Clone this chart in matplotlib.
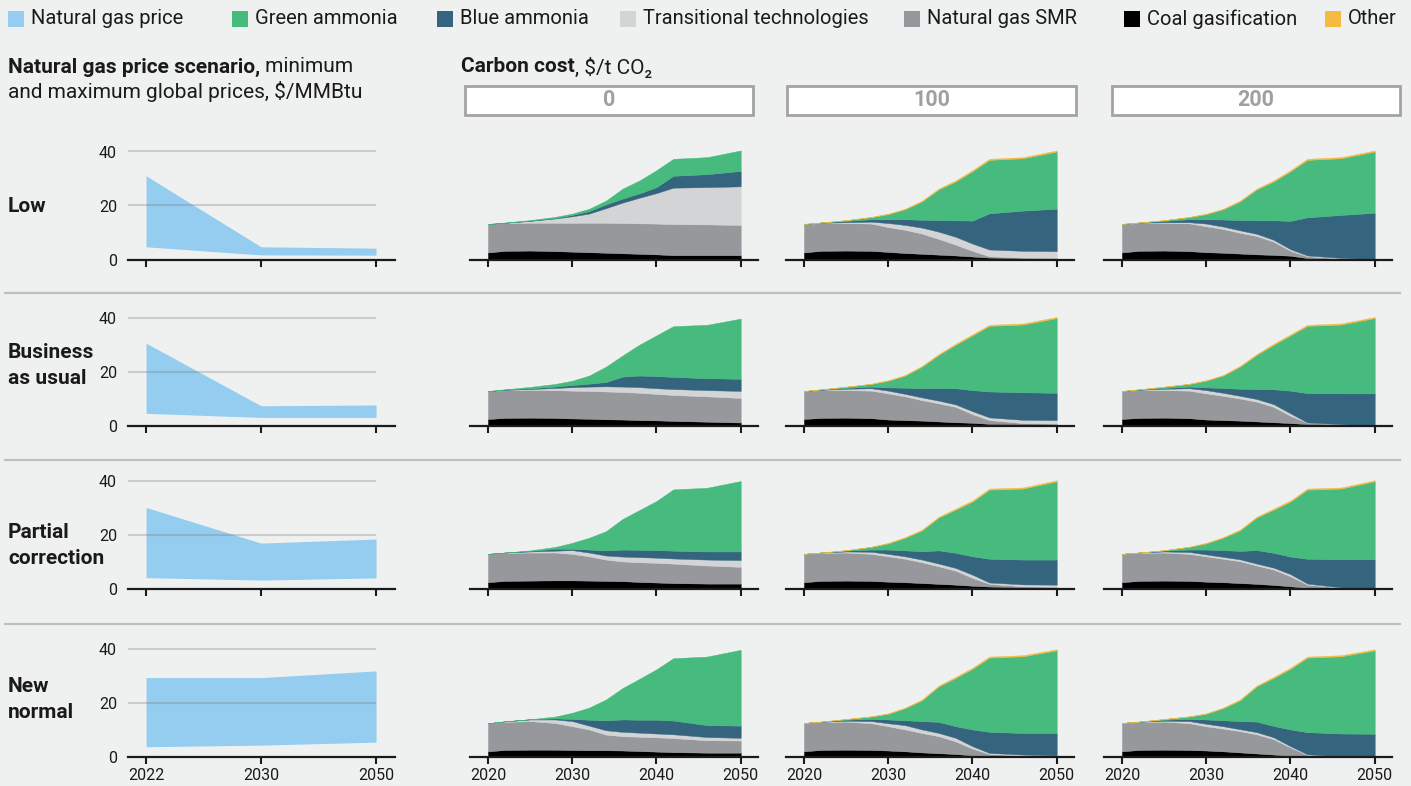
import matplotlib
matplotlib.use("Agg")
import matplotlib.pyplot as plt
from matplotlib.patches import Rectangle
from matplotlib.lines import Line2D

# ---------------------------------------------------------------- data
YEARS = [2020, 2022, 2025, 2028, 2030, 2032, 2034, 2036, 2038, 2040, 2042, 2046, 2050]
GAS_YEARS = ["2022", "2030", "2050"]
SCENARIOS = [["Low"], ["Business", "as usual"], ["Partial", "correction"], ["New", "normal"]]
CARBON_COSTS = ["0", "100", "200"]

# natural gas price range, $/MMBtu
gas_low_min = [4.7, 1.7, 1.6]
gas_low_max = [31.0, 4.7, 4.2]
gas_bau_min = [4.5, 3.0, 3.0]
gas_bau_max = [30.5, 7.3, 7.6]
gas_pc_min = [4.2, 3.3, 4.1]
gas_pc_max = [30.2, 17.0, 18.5]
gas_nn_min = [3.8, 4.4, 5.5]
gas_nn_max = [29.4, 29.4, 31.9]

# ammonia supply by technology — Low gas price
low_0_coal = [2.6, 3.2, 3.3, 3.1, 2.9, 2.7, 2.5, 2.3, 2.1, 1.9, 1.6, 1.6, 1.6]
low_0_smr = [10.5, 10.3, 10.3, 10.5, 10.7, 10.9, 11.1, 11.2, 11.3, 11.4, 11.5, 11.4, 11.2]
low_0_trans = [0.0, 0.1, 0.7, 1.6, 2.4, 3.4, 5.4, 7.6, 9.5, 11.3, 13.5, 13.8, 14.3]
low_0_blue = [0.0, 0.0, 0.1, 0.2, 0.5, 0.9, 1.4, 1.5, 1.6, 2.2, 4.4, 4.8, 5.7]
low_0_green = [0.1, 0.1, 0.2, 0.4, 0.5, 0.9, 1.4, 3.7, 4.8, 6.3, 6.3, 6.3, 7.6]
low_0_other = [0.0, 0.0, 0.0, 0.0, 0.0, 0.0, 0.0, 0.0, 0.0, 0.0, 0.0, 0.0, 0.0]

low_100_coal = [2.6, 3.2, 3.3, 3.2, 2.8, 2.4, 2.1, 1.8, 1.5, 1.1, 0.7, 0.5, 0.4]
low_100_smr = [10.5, 10.3, 10.2, 10.1, 9.2, 8.6, 7.5, 5.8, 4.0, 2.1, 0.5, 0.2, 0.2]
low_100_trans = [0.0, 0.1, 0.3, 0.7, 1.5, 1.8, 2.2, 2.7, 2.9, 2.7, 2.5, 2.5, 2.5]
low_100_blue = [0.0, 0.1, 0.5, 0.9, 1.4, 2.1, 2.9, 4.3, 6.1, 8.5, 13.4, 14.9, 15.7]
low_100_green = [0.1, 0.0, 0.25, 0.8, 1.9, 3.7, 6.8, 11.4, 14.4, 18.3, 19.8, 19.4, 21.2]
low_100_other = [0.0, 0.0, 0.05, 0.1, 0.2, 0.2, 0.3, 0.3, 0.4, 0.4, 0.4, 0.4, 0.4]

low_200_coal = [2.6, 3.2, 3.3, 3.1, 2.7, 2.5, 2.2, 1.9, 1.7, 1.4, 0.5, 0.1, 0.0]
low_200_smr = [10.5, 10.3, 10.3, 10.3, 9.6, 8.8, 7.7, 6.8, 4.9, 1.8, 0.7, 0.3, 0.0]
low_200_trans = [0.0, 0.1, 0.2, 0.4, 1.0, 0.9, 0.9, 0.8, 0.7, 0.6, 0.3, 0.2, 0.1]
low_200_blue = [0.0, 0.1, 0.5, 1.1, 1.6, 2.6, 3.8, 5.0, 7.2, 10.5, 14.1, 15.9, 17.2]
low_200_green = [0.1, 0.0, 0.25, 0.8, 1.9, 3.8, 6.9, 11.5, 14.4, 18.4, 21.3, 21.0, 22.7]
low_200_other = [0.0, 0.0, 0.05, 0.1, 0.2, 0.2, 0.3, 0.3, 0.4, 0.4, 0.4, 0.4, 0.4]

# Business as usual
bau_0_coal = [2.4, 2.8, 2.9, 2.8, 2.6, 2.5, 2.3, 2.2, 2.0, 1.9, 1.7, 1.4, 1.1]
bau_0_smr = [10.3, 10.3, 10.3, 10.3, 10.3, 10.3, 10.3, 10.2, 10.1, 9.8, 9.6, 9.4, 9.1]
bau_0_trans = [0.0, 0.1, 0.3, 0.8, 1.3, 1.6, 1.9, 2.0, 2.1, 2.1, 2.2, 2.3, 2.6]
bau_0_blue = [0.0, 0.1, 0.3, 0.5, 0.8, 1.1, 1.6, 3.7, 4.3, 4.5, 4.5, 4.4, 4.5]
bau_0_green = [0.1, 0.1, 0.5, 1.0, 1.6, 3.0, 5.7, 7.9, 11.5, 15.1, 18.8, 19.8, 22.3]
bau_0_other = [0.0, 0.0, 0.0, 0.0, 0.0, 0.0, 0.0, 0.0, 0.0, 0.0, 0.0, 0.0, 0.0]

bau_100_coal = [2.4, 2.8, 2.9, 2.7, 2.2, 2.0, 1.8, 1.5, 1.2, 1.0, 0.6, 0.5, 0.4]
bau_100_smr = [10.3, 10.3, 10.2, 10.2, 9.7, 8.8, 7.6, 6.7, 5.7, 3.2, 1.4, 0.4, 0.3]
bau_100_trans = [0.0, 0.1, 0.5, 0.9, 1.0, 0.9, 1.0, 1.0, 0.9, 1.1, 1.0, 1.2, 1.3]
bau_100_blue = [0.0, 0.1, 0.3, 0.6, 1.2, 2.3, 3.4, 4.7, 6.0, 7.8, 9.6, 10.2, 10.1]
bau_100_green = [0.1, 0.1, 0.45, 1.0, 2.5, 4.5, 8.0, 12.3, 16.1, 20.3, 24.3, 25.1, 27.7]
bau_100_other = [0.0, 0.0, 0.05, 0.1, 0.2, 0.2, 0.3, 0.3, 0.4, 0.4, 0.4, 0.4, 0.4]

bau_200_coal = [2.4, 2.8, 2.9, 2.7, 2.2, 2.0, 1.8, 1.5, 1.2, 0.9, 0.5, 0.2, 0.0]
bau_200_smr = [10.3, 10.3, 10.2, 10.2, 9.7, 9.0, 8.2, 7.3, 5.7, 2.7, 0.5, 0.3, 0.0]
bau_200_trans = [0.0, 0.1, 0.5, 0.9, 1.2, 1.1, 1.0, 1.0, 1.0, 0.9, 0.1, 0.0, 0.0]
bau_200_blue = [0.0, 0.1, 0.3, 0.6, 1.0, 1.8, 2.6, 3.7, 5.5, 8.4, 10.9, 11.4, 11.9]
bau_200_green = [0.1, 0.1, 0.45, 1.0, 2.5, 4.6, 8.2, 12.7, 16.5, 20.5, 24.9, 25.5, 27.9]
bau_200_other = [0.0, 0.0, 0.05, 0.1, 0.2, 0.2, 0.3, 0.3, 0.4, 0.4, 0.4, 0.4, 0.4]

# Partial correction
pc_0_coal = [2.5, 3.0, 3.1, 3.2, 3.2, 3.1, 3.0, 2.9, 2.6, 2.4, 2.2, 2.0, 2.0]
pc_0_smr = [10.5, 10.4, 10.4, 10.3, 9.8, 9.0, 7.9, 7.3, 7.3, 7.3, 7.2, 6.7, 6.2]
pc_0_trans = [0.0, 0.1, 0.4, 0.7, 1.4, 1.4, 1.5, 1.8, 1.9, 1.9, 1.9, 2.2, 2.5]
pc_0_blue = [0.0, 0.0, 0.2, 0.7, 0.5, 1.1, 1.9, 2.6, 2.7, 2.8, 2.9, 3.0, 3.2]
pc_0_green = [0.0, 0.0, 0.2, 0.7, 2.2, 4.4, 7.1, 11.4, 14.8, 18.2, 22.7, 23.6, 26.1]
pc_0_other = [0.0, 0.0, 0.0, 0.0, 0.0, 0.0, 0.0, 0.0, 0.0, 0.0, 0.0, 0.0, 0.0]

pc_100_coal = [2.5, 3.0, 3.1, 3.0, 2.7, 2.5, 2.2, 1.9, 1.6, 1.2, 0.9, 0.6, 0.5]
pc_100_smr = [10.5, 10.4, 10.4, 10.0, 9.4, 8.7, 7.7, 6.5, 5.2, 2.9, 1.0, 0.4, 0.3]
pc_100_trans = [0.0, 0.1, 0.4, 0.8, 0.9, 0.9, 1.0, 1.0, 1.0, 1.2, 0.5, 0.7, 0.8]
pc_100_blue = [0.0, 0.0, 0.3, 0.8, 1.6, 2.2, 3.1, 4.9, 5.6, 6.8, 8.8, 9.2, 9.3]
pc_100_green = [0.0, 0.0, 0.15, 1.0, 2.3, 4.7, 7.7, 12.2, 16.0, 20.3, 25.6, 26.3, 29.0]
pc_100_other = [0.0, 0.0, 0.05, 0.1, 0.2, 0.2, 0.3, 0.3, 0.4, 0.4, 0.4, 0.4, 0.4]

pc_200_coal = [2.5, 3.0, 3.1, 3.0, 2.7, 2.5, 2.2, 1.9, 1.5, 1.0, 0.4, 0.0, 0.0]
pc_200_smr = [10.5, 10.4, 10.4, 10.0, 9.4, 8.7, 8.1, 6.8, 5.7, 3.7, 1.2, 0.5, 0.0]
pc_200_trans = [0.0, 0.1, 0.4, 0.7, 0.7, 0.7, 0.7, 0.7, 0.7, 0.8, 0.4, 0.1, 0.0]
pc_200_blue = [0.0, 0.0, 0.3, 0.9, 1.8, 2.5, 3.1, 5.0, 5.5, 6.5, 9.2, 10.4, 11.0]
pc_200_green = [0.0, 0.0, 0.15, 1.0, 2.3, 4.6, 7.6, 12.1, 16.0, 20.4, 25.6, 26.2, 28.9]
pc_200_other = [0.0, 0.0, 0.05, 0.1, 0.2, 0.2, 0.3, 0.3, 0.4, 0.4, 0.4, 0.4, 0.4]

# New normal
nn_0_coal = [2.1, 2.6, 2.7, 2.7, 2.6, 2.5, 2.5, 2.4, 2.2, 2.0, 1.8, 1.6, 1.6]
nn_0_smr = [10.4, 10.4, 10.6, 9.9, 8.8, 7.7, 5.8, 5.3, 5.3, 5.3, 5.2, 4.6, 4.5]
nn_0_trans = [0.0, 0.2, 0.6, 1.3, 1.9, 1.4, 1.6, 1.6, 1.5, 1.4, 1.4, 1.2, 1.0]
nn_0_blue = [0.0, 0.0, 0.1, 0.4, 0.8, 2.2, 3.7, 4.6, 4.8, 5.1, 5.1, 4.4, 4.5]
nn_0_green = [0.0, 0.0, 0.0, 0.7, 2.3, 4.5, 7.7, 11.7, 15.2, 18.7, 23.1, 25.4, 28.1]
nn_0_other = [0.0, 0.0, 0.0, 0.0, 0.0, 0.0, 0.0, 0.0, 0.0, 0.0, 0.0, 0.0, 0.0]

nn_100_coal = [2.1, 2.6, 2.7, 2.6, 2.4, 2.1, 1.7, 1.4, 1.1, 0.6, 0.4, 0.2, 0.1]
nn_100_smr = [10.5, 10.3, 10.4, 9.9, 9.0, 8.1, 7.2, 6.3, 4.7, 2.5, 0.7, 0.4, 0.4]
nn_100_trans = [0.0, 0.1, 0.3, 0.8, 1.1, 1.6, 1.3, 1.2, 1.3, 0.9, 0.4, 0.3, 0.1]
nn_100_blue = [0.0, 0.1, 0.4, 0.8, 1.4, 1.8, 3.1, 4.1, 4.3, 6.2, 7.8, 8.0, 8.3]
nn_100_green = [0.0, 0.0, 0.25, 0.9, 2.1, 4.5, 7.7, 13.2, 17.9, 22.5, 27.5, 28.4, 30.6]
nn_100_other = [0.0, 0.0, 0.05, 0.1, 0.2, 0.2, 0.3, 0.3, 0.4, 0.4, 0.4, 0.4, 0.4]

nn_200_coal = [2.1, 2.6, 2.7, 2.6, 2.4, 2.1, 1.7, 1.3, 0.9, 0.4, 0.1, 0.0, 0.0]
nn_200_smr = [10.5, 10.3, 10.4, 9.9, 9.0, 8.4, 7.9, 7.1, 5.7, 3.1, 0.7, 0.1, 0.0]
nn_200_trans = [0.0, 0.1, 0.3, 0.8, 0.9, 0.9, 0.7, 0.8, 0.7, 0.5, 0.2, 0.1, 0.0]
nn_200_blue = [0.0, 0.1, 0.4, 0.8, 1.6, 2.2, 3.0, 3.9, 4.2, 6.2, 8.2, 8.5, 8.6]
nn_200_green = [0.0, 0.0, 0.25, 0.9, 2.1, 4.5, 7.7, 13.1, 17.8, 22.5, 27.6, 28.6, 30.9]
nn_200_other = [0.0, 0.0, 0.05, 0.1, 0.2, 0.2, 0.3, 0.3, 0.4, 0.4, 0.4, 0.4, 0.4]

# ---------------------------------------------------------------- style
BG = "#EFF1F0"
C_GAS = "#94CDEF"
C_GREEN = "#47BA7E"
C_BLUE = "#35647E"
C_TRANS = "#D3D4D6"
C_SMR = "#97989B"
C_COAL = "#000000"
C_OTHER = "#F4BA42"
LAYER_COLORS = [C_COAL, C_SMR, C_TRANS, C_BLUE, C_GREEN, C_OTHER]
TXT = "#1A1A1A"

plt.rcParams["font.family"] = ["Roboto", "DejaVu Sans"]

W, H = 1411, 786
fig = plt.figure(figsize=(W / 100, H / 100), dpi=100, facecolor=BG)
renderer = fig.canvas.get_renderer()

PX_PER_UNIT = 2.7
YMAX = 44
ROW_ZERO = [259.5, 425.5, 589.0, 757.0]
ROW_LABEL_Y = [207, 365, 545, 700]
LABEL_LINE_GAP = 26
GAS_LEFT, GAS_W = 128, 267
STACK_LEFT = [470, 786, 1104]
STACK_W = 288


def px_axes(left, zero_y, width):
    h = YMAX * PX_PER_UNIT
    ax = fig.add_axes([left / W, (H - zero_y) / H, width / W, h / H])
    ax.set_facecolor("none")
    for s in ("top", "right", "left"):
        ax.spines[s].set_visible(False)
    ax.spines["bottom"].set_linewidth(1.6)
    ax.spines["bottom"].set_color(TXT)
    ax.set_ylim(0, YMAX)
    ax.tick_params(axis="x", direction="out", length=5, width=1.5, color=TXT,
                   labelsize=11.5, labelcolor=TXT, pad=3)
    ax.tick_params(axis="y", length=0, labelsize=11.5, labelcolor=TXT, pad=8)
    return ax


gas_min = [gas_low_min, gas_bau_min, gas_pc_min, gas_nn_min]
gas_max = [gas_low_max, gas_bau_max, gas_pc_max, gas_nn_max]
stacks = [
    [[low_0_coal, low_0_smr, low_0_trans, low_0_blue, low_0_green, low_0_other],
     [low_100_coal, low_100_smr, low_100_trans, low_100_blue, low_100_green, low_100_other],
     [low_200_coal, low_200_smr, low_200_trans, low_200_blue, low_200_green, low_200_other]],
    [[bau_0_coal, bau_0_smr, bau_0_trans, bau_0_blue, bau_0_green, bau_0_other],
     [bau_100_coal, bau_100_smr, bau_100_trans, bau_100_blue, bau_100_green, bau_100_other],
     [bau_200_coal, bau_200_smr, bau_200_trans, bau_200_blue, bau_200_green, bau_200_other]],
    [[pc_0_coal, pc_0_smr, pc_0_trans, pc_0_blue, pc_0_green, pc_0_other],
     [pc_100_coal, pc_100_smr, pc_100_trans, pc_100_blue, pc_100_green, pc_100_other],
     [pc_200_coal, pc_200_smr, pc_200_trans, pc_200_blue, pc_200_green, pc_200_other]],
    [[nn_0_coal, nn_0_smr, nn_0_trans, nn_0_blue, nn_0_green, nn_0_other],
     [nn_100_coal, nn_100_smr, nn_100_trans, nn_100_blue, nn_100_green, nn_100_other],
     [nn_200_coal, nn_200_smr, nn_200_trans, nn_200_blue, nn_200_green, nn_200_other]],
]

for r, zero_y in enumerate(ROW_ZERO):
    last_row = r == len(ROW_ZERO) - 1

    # gas price band
    ax = px_axes(GAS_LEFT, zero_y, GAS_W)
    xs = list(range(len(GAS_YEARS)))
    ax.fill_between(xs, gas_min[r], gas_max[r], color=C_GAS, lw=0, zorder=1)
    ax.set_xlim(-0.157, 2.165)
    ax.hlines([20, 40], -0.157, 2, color="#7A7A7A", alpha=0.3, lw=1.5, zorder=2)
    ax.set_yticks([0, 20, 40])
    ax.set_xticks(xs)
    ax.set_xticklabels(GAS_YEARS if last_row else [""] * 3)

    # row label, one text per line
    lines = SCENARIOS[r]
    first_y = ROW_LABEL_Y[r] - (len(lines) - 1) * LABEL_LINE_GAP / 2
    for i, line in enumerate(lines):
        fig.text(8 / W, 1 - (first_y + i * LABEL_LINE_GAP) / H, line, ha="left",
                 va="center", fontsize=15, fontweight="bold", color=TXT)

    # technology mix per carbon cost (layers with no supply are left out)
    for c, left in enumerate(STACK_LEFT):
        ax = px_axes(left, zero_y, STACK_W)
        base = [0.0] * len(YEARS)
        for layer, color in zip(stacks[r][c], LAYER_COLORS):
            top = [b + v for b, v in zip(base, layer)]
            if any(v > 0 for v in layer):
                ax.fill_between(YEARS, base, top, facecolor=color,
                                edgecolor=color, linewidth=0.3)
            base = top
        ax.set_xlim(2017.87, 2052.05)
        ax.set_yticks([])
        ax.set_xticks([2020, 2030, 2040, 2050])
        if not last_row:
            ax.set_xticklabels([])

# separators between scenario rows
for y in (293, 460, 624):
    fig.add_artist(Line2D([5 / W, 1400 / W], [1 - y / H] * 2, color="#BFBFBF", lw=1.6))

# legend along the top
legend_items = [
    ("Natural gas price", C_GAS, 8),
    ("Green ammonia", C_GREEN, 232),
    ("Blue ammonia", C_BLUE, 437),
    ("Transitional technologies", C_TRANS, 620),
    ("Natural gas SMR", C_SMR, 904),
    ("Coal gasification", C_COAL, 1124),
    ("Other", C_OTHER, 1325),
]
for label, color, x in legend_items:
    fig.add_artist(Rectangle((x / W, 1 - 27 / H), 16 / W, 16 / H, facecolor=color,
                             edgecolor="none", transform=fig.transFigure))
    fig.text((x + 23) / W, 1 - 19 / H, label, ha="left", va="center",
             fontsize=14.5, color=TXT)


def mixed_line(x, y, bold, regular, size=15):
    t = fig.text(x / W, 1 - y / H, bold, ha="left", va="center", fontsize=size,
                 fontweight="bold", color=TXT)
    bb = t.get_window_extent(renderer)
    fig.text(bb.x1 / W, 1 - y / H, regular, ha="left", va="center",
             fontsize=size, color=TXT)


mixed_line(8, 67, "Natural gas price scenario,", " minimum")
fig.text(8 / W, 1 - 92 / H, "and maximum global prices, $/MMBtu", ha="left",
         va="center", fontsize=15, color=TXT)
mixed_line(461, 67, "Carbon cost", ", $/t CO₂")

# carbon cost header boxes
for label, (x0, x1) in zip(CARBON_COSTS, [(465, 753), (787, 1076), (1112, 1400)]):
    fig.add_artist(Rectangle((x0 / W, 1 - 115 / H), (x1 - x0) / W, 29 / H,
                             facecolor="white", edgecolor="#A3A3A3", lw=2,
                             transform=fig.transFigure))
    fig.text((x0 + x1) / 2 / W, 1 - 100.5 / H, label, ha="center", va="center",
             fontsize=15.5, fontweight="bold", color="#A0A0A0")

fig.savefig("out.png", dpi=100, facecolor=BG)
